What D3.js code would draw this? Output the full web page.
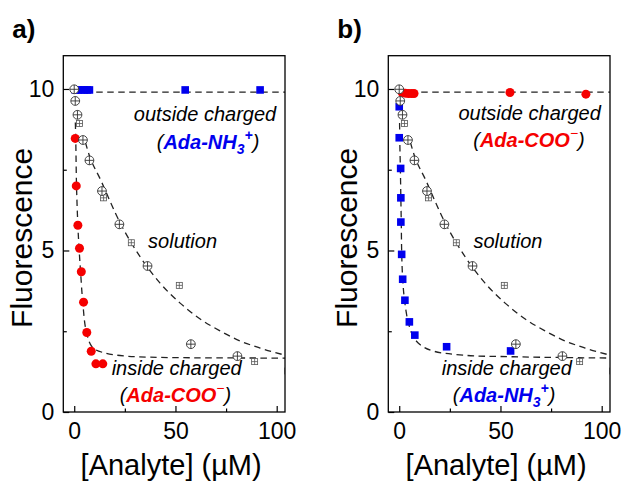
<!DOCTYPE html>
<html><head><meta charset="utf-8">
<script src="https://cdn.jsdelivr.net/npm/d3@7"></script>
<style>
body{margin:0;background:#fff}
svg{display:block}
text{font-family:Arial,"Liberation Sans",sans-serif}
</style>
</head><body>
<svg id="c" width="622" height="481"></svg>
<script>
// ---- tick values ----
const xTicks = [0, 50, 100];
const xMinorTicks = [25, 75];
const yTicks = [0, 5, 10];
const yMinorTicks = [2.5, 7.5];

// ---- solution data (shared by both panels) ----
const solCircleX = [0, 0.5, 1.6, 4.3, 7.5, 13.7, 22.3, 36.2, 57.6, 80.6];
const solCircleY = [9.99, 9.63, 9.2, 8.42, 7.79, 6.84, 5.81, 4.52, 2.10, 1.73];
const solSquareX = [2.6, 14.5, 28.2, 51.9, 89.1, 105.5];
const solSquareY = [8.93, 6.63, 5.24, 3.92, 1.56, 1.27];
const solFitX = [5.5, 6.9, 13.3, 22.7, 32.6, 42.4, 52.3, 62.2, 72.0, 81.9, 91.8, 104.1];
const solFitY = [8.35, 8.05, 7.15, 5.85, 4.80, 3.99, 3.37, 2.88, 2.51, 2.20, 1.98, 1.76];

// ---- panel a ----
const aOutX = [0.5, 2, 3.5, 5, 6.5, 7.5, 54.8, 91.8];
const aOutY = [9.97, 9.97, 9.97, 9.97, 9.97, 9.97, 9.97, 9.97];
const aInX = [0.5, 1.0, 1.8, 2.6, 3.5, 4.6, 6.2, 8.4, 10.7, 14.1];
const aInY = [8.47, 7.0, 5.78, 5.07, 4.34, 3.40, 2.46, 1.88, 1.49, 1.49];
const aOutFitX = [0, 104.1];
const aOutFitY = [9.9, 9.9];
const aInFitX = [0.4, 0.74, 1.13, 1.78, 2.37, 3.1, 4.2, 5.9, 8.9, 14.8, 25.7, 42.4, 104.1];
const aInFitY = [9.3, 8.48, 7.0, 5.79, 5.08, 4.37, 3.41, 2.51, 2.01, 1.83, 1.73, 1.69, 1.67];

// ---- panel b ----
const bOutX = [1.5, 3, 4.5, 6, 7.3, 54.7, 92.2];
const bOutY = [9.88, 9.87, 9.86, 9.86, 9.86, 9.89, 9.84];
const bInX = [0, 0, 0.7, 0.8, 0.8, 1.2, 1.7, 2.8, 5.0, 7.7, 23.4, 55.0];
const bInY = [9.45, 8.49, 7.54, 6.63, 5.88, 4.88, 4.11, 3.46, 2.79, 2.38, 2.02, 1.89];
const bOutFitX = [0, 104.1];
const bOutFitY = [9.9, 9.9];
const bInFitX = [0.1, 0.25, 0.55, 0.8, 1.0, 1.23, 1.7, 2.6, 4.3, 6.8, 10.2, 16.6, 31.5, 56.2, 104.1];
const bInFitY = [9.63, 8.48, 7.55, 6.63, 5.88, 4.89, 4.12, 3.47, 2.82, 2.35, 2.09, 1.89, 1.76, 1.71, 1.67];

const RED = "#f50000", BLUE = "#0000ee";
const zip = (xs, ys) => xs.map((v, i) => [v, ys[i]]);

const svg = d3.select("#c");

function rich(g, xp, yp, segs) {
  const t = g.append("text").attr("x", xp).attr("y", yp)
    .attr("text-anchor", "middle").attr("font-size", 20).attr("font-style", "italic");
  let shift = 0;
  segs.forEach(s => {
    const target = s.sub ? 5 : s.sup ? -9 : 0;
    const sp = t.append("tspan").text(s.t)
      .attr("fill", s.c || "#000")
      .attr("font-weight", s.b ? "bold" : "normal")
      .attr("font-size", (s.sub || s.sup) ? 14 : 20);
    if (target !== shift) { sp.attr("dy", target - shift); shift = target; }
  });
}

function panel(cfg) {
  const L = cfg.left, R = cfg.left + 221.7, T = 55.7, B = 412;
  const x = d3.scaleLinear().domain([-5.4, 104.1]).range([L, R]);
  const y = d3.scaleLinear().domain([0, 11.03]).range([B, T]);
  const g = svg.append("g");
  const clipId = "clip" + cfg.name;
  svg.append("clipPath").attr("id", clipId).append("rect")
    .attr("x", L).attr("y", T).attr("width", R - L).attr("height", B - T);

  // axes
  const ax = g.append("g").attr("transform", `translate(0,${B})`)
    .call(d3.axisBottom(x).tickValues(xTicks).tickSize(-6).tickPadding(11));
  const axm = g.append("g").attr("transform", `translate(0,${B})`)
    .call(d3.axisBottom(x).tickValues(xMinorTicks).tickSize(-3.5).tickFormat(""));
  const ay = g.append("g").attr("transform", `translate(${L},0)`)
    .call(d3.axisLeft(y).tickValues(yTicks).tickSize(-6).tickPadding(9));
  const aym = g.append("g").attr("transform", `translate(${L},0)`)
    .call(d3.axisLeft(y).tickValues(yMinorTicks).tickSize(-3.5).tickFormat(""));
  [ax, axm, ay, aym].forEach(a => {
    a.select(".domain").remove();
    a.selectAll("line").attr("stroke", "#000").attr("stroke-width", 1.2);
    a.selectAll("text").attr("font-size", 23).attr("fill", "#000")
      .attr("font-family", "Arial, 'Liberation Sans', sans-serif");
  });

  const plot = g.append("g").attr("clip-path", `url(#${clipId})`);
  const line = d3.line().x(d => x(d[0])).y(d => y(d[1])).curve(d3.curveMonotoneX);
  const lineV = d3.line().x(d => x(d[0])).y(d => y(d[1])).curve(d3.curveCatmullRom.alpha(0.5));
  const dashStyle = p => p.attr("fill", "none").attr("stroke", "#222")
    .attr("stroke-width", 1.3).attr("stroke-dasharray", "6.5,4.5");

  plot.append("path").datum(zip(cfg.outFitX, cfg.outFitY)).attr("d", line).call(dashStyle);
  plot.append("path").datum(zip(solFitX, solFitY)).attr("d", line).call(dashStyle);
  plot.append("path").datum(zip(cfg.inFitX, cfg.inFitY)).attr("d", lineV).call(dashStyle);

  // colored markers
  const drawSquares = (xs, ys, col) => plot.append("g").selectAll("rect")
    .data(zip(xs, ys)).join("rect")
    .attr("x", d => x(d[0]) - 3.8).attr("y", d => y(d[1]) - 3.8)
    .attr("width", 7.6).attr("height", 7.6).attr("fill", col);
  const drawDots = (xs, ys, col) => plot.append("g").selectAll("circle")
    .data(zip(xs, ys)).join("circle")
    .attr("cx", d => x(d[0])).attr("cy", d => y(d[1])).attr("r", 4.5).attr("fill", col);

  if (cfg.name === "a") { drawSquares(aOutX, aOutY, BLUE); drawDots(aInX, aInY, RED); }
  else { drawDots(bOutX, bOutY, RED); drawSquares(bInX, bInY, BLUE); }

  // solution markers: crossed squares
  const sq = plot.append("g").selectAll("g").data(zip(solSquareX, solSquareY)).join("g")
    .attr("transform", d => `translate(${x(d[0])},${y(d[1])})`)
    .attr("stroke", "#555").attr("stroke-width", 0.8);
  sq.append("rect").attr("x", -3).attr("y", -3).attr("width", 6).attr("height", 6).attr("fill", "#fff");
  sq.append("line").attr("x1", -3).attr("x2", 3);
  sq.append("line").attr("y1", -3).attr("y2", 3);
  // crossed circles
  const cc = plot.append("g").selectAll("g").data(zip(solCircleX, solCircleY)).join("g")
    .attr("transform", d => `translate(${x(d[0])},${y(d[1])})`)
    .attr("stroke", "#333").attr("stroke-width", 0.9);
  cc.append("circle").attr("r", 4.4).attr("fill", "#fff");
  cc.append("line").attr("x1", -4.4).attr("x2", 4.4);
  cc.append("line").attr("y1", -4.4).attr("y2", 4.4);

  // frame
  g.append("rect").attr("x", L).attr("y", T).attr("width", R - L).attr("height", B - T)
    .attr("fill", "none").attr("stroke", "#000").attr("stroke-width", 1.3);

  // annotations
  cfg.labels.forEach(l => rich(g, x(l.x), y(l.y), l.segs));

  // titles
  g.append("text").attr("transform", `translate(${L - 31},${(T + B) / 2 + 4}) rotate(-90)`)
    .attr("text-anchor", "middle").attr("font-size", 30).text("Fluorescence");
  g.append("text").attr("x", (L + R) / 2 - 3).attr("y", 475)
    .attr("text-anchor", "middle").attr("font-size", 29).text("[Analyte] (\u00B5M)");
  g.append("text").attr("x", L - 51).attr("y", 38).attr("font-size", 26)
    .attr("font-weight", "bold").text(cfg.letter);
}

const nh3 = [{t: "("}, {t: "Ada-NH", c: BLUE, b: true}, {t: "3", c: BLUE, b: true, sub: true},
  {t: "+", c: BLUE, b: true, sup: true}, {t: ")"}];
const coo = [{t: "("}, {t: "Ada-COO", c: RED, b: true}, {t: "\u2212", c: RED, sup: true}, {t: ")"}];

panel({
  name: "a", letter: "a)", left: 63.3,
  outFitX: aOutFitX, outFitY: aOutFitY, inFitX: aInFitX, inFitY: aInFitY,
  labels: [
    {x: 64.6, y: 9.0, segs: [{t: "outside charged"}]},
    {x: 66.1, y: 8.15, segs: nh3},
    {x: 53.5, y: 5.08, segs: [{t: "solution"}]},
    {x: 50.6, y: 1.15, segs: [{t: "inside charged"}]},
    {x: 50.0, y: 0.3, segs: coo}
  ]
});
panel({
  name: "b", letter: "b)", left: 388.3,
  outFitX: bOutFitX, outFitY: bOutFitY, inFitX: bInFitX, inFitY: bInFitY,
  labels: [
    {x: 64.4, y: 9.05, segs: [{t: "outside charged"}]},
    {x: 64.1, y: 8.2, segs: coo},
    {x: 53.7, y: 5.08, segs: [{t: "solution"}]},
    {x: 53.1, y: 1.15, segs: [{t: "inside charged"}]},
    {x: 51.8, y: 0.3, segs: nh3}
  ]
});
</script>
</body></html>
